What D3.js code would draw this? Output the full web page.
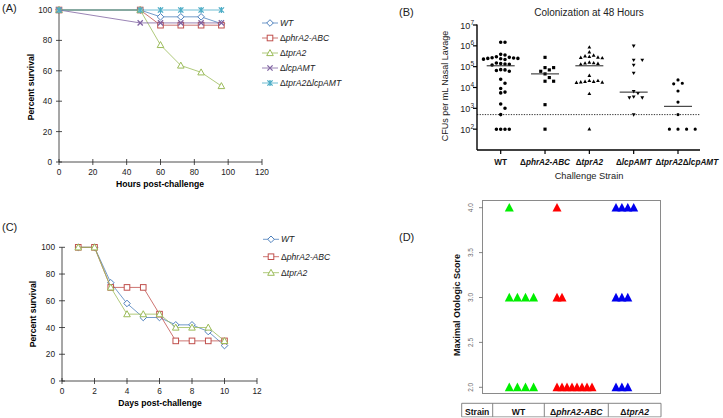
<!DOCTYPE html>
<html><head><meta charset="utf-8">
<script src="https://cdn.jsdelivr.net/npm/d3@7"></script>
<style>body{margin:0;background:#fff}svg{display:block;font-family:"Liberation Sans",Arial,sans-serif}</style>
</head><body><svg id="c" width="723" height="418"></svg>
<script>
// ---------- Panel A data ----------
const hoursA = [0, 48, 60, 72, 84, 96];
const seriesA = ["WT", "ΔphrA2-ABC", "ΔtprA2", "ΔlcpAMT", "ΔtprA2ΔlcpAMT"];
const survA_WT  = [100, 100, 95.5, 95.5, 95.5, 91];
const survA_phr = [100, 100, 90, 90, 90, 90];
const survA_tpr = [100, 100, 77, 63.5, 59, 50];
const survA_lcp = [100, 91.5, 91.5, 91.5, 91.5, 91.5];
const survA_dbl = [100, 100, 100, 100, 100, 100];
const ticksA_x = [0, 20, 40, 60, 80, 100, 120];
const ticksA_y = [0, 20, 40, 60, 80, 100];

// ---------- Panel B data ----------
const strainsB = ["WT", "ΔphrA2-ABC", "ΔtprA2", "ΔlcpAMT", "ΔtprA2ΔlcpAMT"];
const cfuB_WT  = [1.5e6, 1.5e6, 3.9e5, 3.6e5, 2.8e5, 2.6e5, 2.5e5, 2.4e5, 2.3e5, 2.2e5, 2.5e5, 2.7e5, 3e5,
                  1.5e5, 1.4e5, 1.3e5, 1.2e5, 1.35e5, 7e4, 6.5e4, 7.2e4, 6e4, 2.5e4, 1.6e4, 9e3, 6e3, 5.5e3,
                  1.6e3, 1e3, 500, 100, 100, 100, 100];
const cfuB_phr = [2.8e5, 9e4, 9e4, 7e4, 6e4, 4.5e4, 3e4, 2e4, 2e4, 1.5e3, 100];
const cfuB_tpr = [8.5e5, 5e5, 3.5e5, 3.2e5, 3e5, 2.8e5, 2.7e5, 2.6e5, 1.6e5, 1.5e5, 1.45e5, 1.4e5, 1.3e5,
                  3.7e4, 2.1e4, 1.9e4, 1.8e4, 1.7e4, 1.75e4, 1.9e4, 2.1e4, 5e3, 100];
const cfuB_lcp = [1e6, 2.1e5, 2.1e5, 1.2e5, 5e4, 6.5e3, 5.3e3, 3.3e3, 3.3e3, 3.6e3, 500];
const cfuB_dbl = [2.3e4, 1.5e4, 1.6e4, 6.8e3, 2e3, 500, 100, 100, 100, 100];
const mediansB = [1.1e5, 4.5e4, 1.1e5, 6e3, 1.25e3];
const limitB = 500;
const ticksB_y = [2, 3, 4, 5, 6, 7];

// ---------- Panel C data ----------
const daysC = [1, 2, 3, 4, 5, 6, 7, 8, 9, 10];
const seriesC = ["WT", "ΔphrA2-ABC", "ΔtprA2"];
const survC_WT  = [100, 100, 73.5, 58, 47.5, 47.5, 42, 42, 37, 26.5];
const survC_phr = [100, 100, 70, 70, 70, 50, 30, 30, 30, 30];
const survC_tpr = [100, 100, 70, 50, 50, 50, 40, 40, 40, 30];
const ticksC_x = [0, 2, 4, 6, 8, 10, 12];
const ticksC_y = [0, 20, 40, 60, 80, 100];

// ---------- Panel D data ----------
const strainsD = ["WT", "ΔphrA2-ABC", "ΔtprA2"];
const scoresD = [2, 3, 4];
const countsD_WT  = [4, 4, 1];
const countsD_phr = [8, 2, 1];
const countsD_tpr = [3, 3, 4];
const ticksD_y = [2.0, 2.5, 3.0, 3.5, 4.0];

// ---------- helpers ----------
const svg = d3.select("#c");
svg.append("rect").attr("width", 723).attr("height", 418).attr("fill", "#fff");

function rich(t, str, italic) {
  str.split(/(Δ)/).filter(s => s).forEach(p => {
    t.append("tspan").text(p).attr("font-style", p === "Δ" ? "normal" : (italic ? "italic" : "normal"));
  });
  return t;
}
const xPath = r => `M${-r},${-r}L${r},${r}M${-r},${r}L${r},${-r}`;
const astPath = r => `M${-r},${-r}L${r},${r}M${-r},${r}L${r},${-r}M0,${-r * 1.2}L0,${r * 1.2}`;
function marker(g, shape, x, y, color) {
  const t = `translate(${x},${y})`;
  if (shape === "diamond") g.append("path").attr("d", "M0,-3.3L3.3,0L0,3.3L-3.3,0Z").attr("transform", t).attr("fill", "#fff").attr("stroke", color).attr("stroke-width", 1);
  else if (shape === "square") g.append("rect").attr("x", x - 2.8).attr("y", y - 2.8).attr("width", 5.6).attr("height", 5.6).attr("fill", "#fff").attr("stroke", color).attr("stroke-width", 1);
  else if (shape === "triangle") g.append("path").attr("d", "M0,-3.4L3.3,2.6L-3.3,2.6Z").attr("transform", t).attr("fill", "#fff").attr("stroke", color).attr("stroke-width", 1);
  else if (shape === "x") g.append("path").attr("d", xPath(2.6)).attr("transform", t).attr("fill", "none").attr("stroke", color).attr("stroke-width", 1.3);
  else if (shape === "ast") g.append("path").attr("d", astPath(2.6)).attr("transform", t).attr("fill", "none").attr("stroke", color).attr("stroke-width", 1.3);
}

function survivalPanel(cfg) {
  const g = svg.append("g");
  const { x, y, xt, yt } = cfg;
  const [x0] = x.range(); const [y0, y1] = y.range();
  const x1 = x.range()[1];
  const ax = "#222";
  g.append("line").attr("x1", x0).attr("x2", x0).attr("y1", y0).attr("y2", y1).attr("stroke", ax).attr("stroke-width", 0.8);
  g.append("line").attr("x1", x0).attr("x2", x1).attr("y1", y0).attr("y2", y0).attr("stroke", ax).attr("stroke-width", 0.8);
  yt.forEach(v => {
    g.append("line").attr("x1", x0 - 3).attr("x2", x0 + 3).attr("y1", y(v)).attr("y2", y(v)).attr("stroke", ax).attr("stroke-width", 0.8);
    g.append("text").attr("x", x0 - 7).attr("y", y(v) + 3).attr("text-anchor", "end").attr("font-size", 8.3).attr("fill", "#222").text(v);
  });
  xt.forEach(v => {
    g.append("line").attr("x1", x(v)).attr("x2", x(v)).attr("y1", y0 - 3).attr("y2", y0 + 3).attr("stroke", ax).attr("stroke-width", 0.8);
    g.append("text").attr("x", x(v)).attr("y", y0 + 13).attr("text-anchor", "middle").attr("font-size", 8.3).attr("fill", "#222").text(v);
  });
  g.append("text").attr("x", cfg.xTitle[0]).attr("y", cfg.xTitle[1]).attr("text-anchor", "middle").attr("font-size", 8.6).attr("font-weight", "bold").text(cfg.xLabel);
  g.append("text").attr("transform", `translate(${cfg.yTitle[0]},${cfg.yTitle[1]}) rotate(-90)`).attr("text-anchor", "middle").attr("font-size", 8.6).attr("font-weight", "bold").text("Percent survival");
  const line = d3.line().x(d => x(d[0])).y(d => y(d[1]));
  cfg.series.forEach(s => {
    const pts = cfg.xs.map((xv, i) => [xv, s.vals[i]]);
    g.append("path").attr("d", line(pts)).attr("fill", "none").attr("stroke", s.color).attr("stroke-width", 0.8);
    pts.forEach(p => marker(g, s.shape, x(p[0]), y(p[1]), s.color));
  });
  cfg.series.forEach((s, i) => {
    const ly = cfg.legY[i];
    g.append("line").attr("x1", cfg.legX - 8).attr("x2", cfg.legX + 8).attr("y1", ly).attr("y2", ly).attr("stroke", s.color).attr("stroke-width", 0.8);
    marker(g, s.shape, cfg.legX, ly, s.color);
    rich(g.append("text").attr("x", cfg.legX + 10).attr("y", ly + 3).attr("font-size", 8.6).attr("fill", "#222"), s.name, true);
  });
}

const cBlue = "#4f81bd", cRed = "#c0504d", cGreen = "#9bbb59", cPurple = "#8064a2", cCyan = "#4bacc6";

// ---------- Panel A ----------
survivalPanel({
  x: d3.scaleLinear().domain([0, 120]).range([59, 262]),
  y: d3.scaleLinear().domain([0, 100]).range([162, 10]),
  xt: ticksA_x, yt: ticksA_y, xs: hoursA,
  xLabel: "Hours post-challenge", xTitle: [160, 187], yTitle: [34, 87],
  legX: 270, legY: [23, 38, 53, 68, 83],
  series: [
    { name: seriesA[0], vals: survA_WT, color: cBlue, shape: "diamond" },
    { name: seriesA[1], vals: survA_phr, color: cRed, shape: "square" },
    { name: seriesA[2], vals: survA_tpr, color: cGreen, shape: "triangle" },
    { name: seriesA[3], vals: survA_lcp, color: cPurple, shape: "x" },
    { name: seriesA[4], vals: survA_dbl, color: cCyan, shape: "ast" }
  ]
});

// ---------- Panel C ----------
survivalPanel({
  x: d3.scaleLinear().domain([0, 12]).range([62, 257]),
  y: d3.scaleLinear().domain([0, 100]).range([381, 247.3]),
  xt: ticksC_x, yt: ticksC_y, xs: daysC,
  xLabel: "Days post-challenge", xTitle: [160, 406], yTitle: [36, 314],
  legX: 271, legY: [239.3, 256.7, 272.7],
  series: [
    { name: seriesC[0], vals: survC_WT, color: cBlue, shape: "diamond" },
    { name: seriesC[1], vals: survC_phr, color: cRed, shape: "square" },
    { name: seriesC[2], vals: survC_tpr, color: cGreen, shape: "triangle" }
  ]
});

// ---------- Panel B ----------
(function () {
  const g = svg.append("g");
  const x = d3.scalePoint().domain(strainsB).range([500.7, 678]);
  const y = d3.scaleLog().domain([10, 1e7]).range([150, 25]);
  const axL = 477, axR = 700, axB = 150;
  g.append("line").attr("x1", axL).attr("x2", axL).attr("y1", y(1e7) - 0.5).attr("y2", axB).attr("stroke", "#000").attr("stroke-width", 1.4);
  g.append("line").attr("x1", axL).attr("x2", axR).attr("y1", axB).attr("y2", axB).attr("stroke", "#000").attr("stroke-width", 1.4);
  ticksB_y.forEach(e => {
    const yy = y(Math.pow(10, e));
    g.append("line").attr("x1", axL - 4).attr("x2", axL).attr("y1", yy).attr("y2", yy).attr("stroke", "#000").attr("stroke-width", 1.2);
    const t = g.append("text").attr("x", axL - 3).attr("y", yy + 3.5).attr("text-anchor", "end").attr("font-size", 9).attr("fill", "#222");
    t.append("tspan").text("10");
    t.append("tspan").attr("dy", -4).attr("font-size", 6.5).text(e);
  });
  let prevRight = -Infinity;
  strainsB.forEach(s => {
    g.append("line").attr("x1", x(s)).attr("x2", x(s)).attr("y1", axB).attr("y2", axB + 4).attr("stroke", "#000").attr("stroke-width", 1.2);
    const t = rich(g.append("text").attr("x", x(s)).attr("y", 164.5).attr("text-anchor", "middle").attr("font-size", 8.2).attr("font-weight", "bold").attr("fill", "#111"), s, s !== "WT");
    const w = t.node().getComputedTextLength();
    let left = x(s) - w / 2;
    if (left < prevRight + 4) { left = prevRight + 4; t.attr("x", left + w / 2); }
    prevRight = left + w;
  });
  g.append("text").attr("x", 589).attr("y", 178.5).attr("text-anchor", "middle").attr("font-size", 9.3).attr("fill", "#222").text("Challenge Strain");
  g.append("text").attr("x", 589).attr("y", 15.5).attr("text-anchor", "middle").attr("font-size", 10).attr("fill", "#222").text("Colonization at 48 Hours");
  g.append("text").attr("transform", "translate(448,86) rotate(-90)").attr("text-anchor", "middle").attr("font-size", 9).attr("fill", "#222").text("CFUs per mL Nasal Lavage");
  g.append("line").attr("x1", axL).attr("x2", axR).attr("y1", y(limitB)).attr("y2", y(limitB)).attr("stroke", "#000").attr("stroke-width", 0.8).attr("stroke-dasharray", "1.3,1.3");
  const data = [cfuB_WT, cfuB_phr, cfuB_tpr, cfuB_lcp, cfuB_dbl];
  const shapes = [
    d3.symbol(d3.symbolCircle, 10)(),
    d3.symbol(d3.symbolSquare, 10)(),
    "M0,-2.1L1.9,1.3L-1.9,1.3Z",
    "M0,2.1L1.9,-1.3L-1.9,-1.3Z",
    d3.symbol(d3.symbolCircle, 8)()
  ];
  const s = 4.3;
  data.forEach((vals, ci) => {
    const cx = x(strainsB[ci]);
    const placed = [];
    vals.map(v => ({ v, y: y(v) })).sort((a, b) => a.y - b.y).forEach(p => {
      for (let k = 0; k < 80; k++) {
        const dx = (k % 2 === 1 ? 1 : -1) * Math.ceil(k / 2) * s;
        if (placed.every(q => Math.hypot(q.x - (cx + dx), q.y - p.y) >= s)) { p.x = cx + dx; placed.push(p); break; }
      }
    });
    placed.forEach(p => g.append("path").attr("d", shapes[ci]).attr("transform", `translate(${p.x},${p.y})`).attr("fill", "#000"));
    const my = y(mediansB[ci]);
    g.append("line").attr("x1", cx - 14).attr("x2", cx + 14).attr("y1", my).attr("y2", my).attr("stroke", "#222").attr("stroke-width", 1);
  });
})();

// ---------- Panel D ----------
(function () {
  const g = svg.append("g");
  const y = d3.scaleLinear().domain([2, 4]).range([387.3, 207.7]);
  const startX = d3.scaleOrdinal().domain(strainsD).range([509.3, 557, 616]);
  const stepX = d3.scaleOrdinal().domain(strainsD).range([8.1, 5, 5.9]);
  const colors = d3.scaleOrdinal().domain(strainsD).range(["#00ee00", "#ff0000", "#0000ee"]);
  g.append("rect").attr("x", 482.5).attr("y", 200.5).attr("width", 178).attr("height", 193).attr("fill", "none").attr("stroke", "#8a8a8a").attr("stroke-width", 1);
  ticksD_y.forEach(v => {
    g.append("line").attr("x1", 479).attr("x2", 482.5).attr("y1", y(v)).attr("y2", y(v)).attr("stroke", "#666").attr("stroke-width", 0.8);
    g.append("text").attr("transform", `translate(473,${y(v)}) rotate(-90)`).attr("text-anchor", "middle").attr("font-size", 6.5).attr("fill", "#666").text(v.toFixed(1));
  });
  g.append("text").attr("transform", "translate(459.5,305) rotate(-90)").attr("text-anchor", "middle").attr("font-size", 9).attr("font-weight", "bold").attr("fill", "#111").text("Maximal Otologic Score");
  const counts = [countsD_WT, countsD_phr, countsD_tpr];
  strainsD.forEach((s, si) => {
    scoresD.forEach((sc, k) => {
      for (let i = 0; i < counts[si][k]; i++) {
        const cx = startX(s) + i * stepX(s), cy = y(sc);
        g.append("path").attr("d", "M0,-4.7L4.5,3.9L-4.5,3.9Z").attr("transform", `translate(${cx},${cy})`).attr("fill", colors(s));
      }
    });
  });
  const cols = [461.7, 492.7, 544.3, 608.3, 661];
  const labels = ["Strain"].concat(strainsD);
  const tTop = 403.3, tBot = 416.8;
  g.append("line").attr("x1", cols[0]).attr("x2", cols[4]).attr("y1", tTop).attr("y2", tTop).attr("stroke", "#777").attr("stroke-width", 0.9);
  g.append("line").attr("x1", cols[0]).attr("x2", cols[4]).attr("y1", tBot).attr("y2", tBot).attr("stroke", "#999").attr("stroke-width", 0.9);
  cols.forEach(cx => g.append("line").attr("x1", cx).attr("x2", cx).attr("y1", tTop).attr("y2", tBot).attr("stroke", "#777").attr("stroke-width", 0.9));
  labels.forEach((l, i) => {
    rich(g.append("text").attr("x", (cols[i] + cols[i + 1]) / 2).attr("y", 414.5).attr("text-anchor", "middle").attr("font-size", 8.6).attr("font-weight", "bold").attr("fill", "#111"), l, i > 1);
  });
})();

// ---------- panel letters ----------
[["(A)", 2, 12], ["(B)", 399, 16], ["(C)", 2, 231], ["(D)", 399, 241]].forEach(d => {
  svg.append("text").attr("x", d[1]).attr("y", d[2]).attr("font-size", 11).attr("fill", "#222").text(d[0]);
});
</script></body></html>
